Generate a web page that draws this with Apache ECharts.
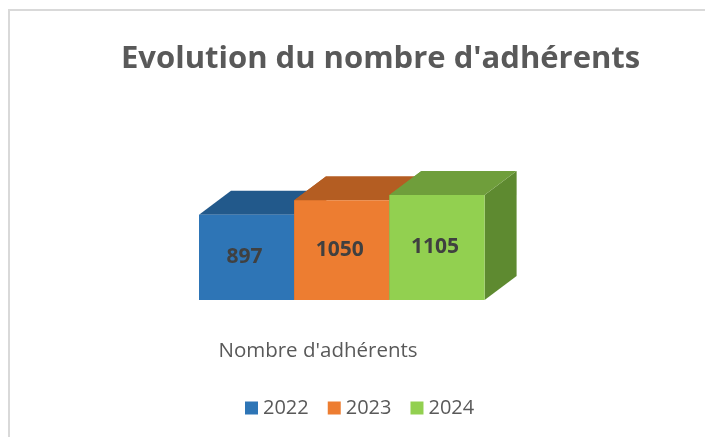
<!DOCTYPE html>
<html>
<head>
<meta charset="utf-8">
<script src="https://cdn.jsdelivr.net/npm/echarts@6/dist/echarts.min.js"></script>
<style>
  html, body { margin: 0; padding: 0; background: #fff; }
  #chart { width: 705px; height: 437px; }
</style>
</head>
<body>
<div id="chart"></div>
<script>
// données
const categories = ["Nombre d'adhérents"];
const years = ['2022', '2023', '2024'];
const values = [897, 1050, 1105];

// couleurs : face avant, dessus, côté
const fronts = ['#2E75B6', '#ED7D31', '#92D050'];
const tops = ['#22598B', '#B45D22', '#6F9E3B'];
const sides = ['#1F4E79', '#A0521D', '#5E8A30'];

const depthX = 32;
const depthY = 24;

let chart = echarts.init(document.getElementById('chart'));

function makeRender(idx) {
    return function (params, api) {
        let base = api.coord([api.value(0), 0]);
        let top = api.coord([api.value(0), api.value(1)]);
        let band = api.size([1, 0])[0];
        let w = band * 0.4;
        let x0 = base[0] - band / 2 + idx * w;
        let x1 = x0 + w;
        let yb = base[1];
        let yt = top[1];
        let children = [];
        if (idx > 0) {
            // face gauche cachée : masque le dessus de la barre précédente
            children.push({
                type: 'polygon',
                shape: { points: [[x0, yt], [x0 + depthX, yt - depthY], [x0 + depthX, yb - depthY], [x0, yb]] },
                style: { fill: tops[idx] }
            });
        }
        children.push(
            {
                type: 'polygon',
                shape: { points: [[x1, yt], [x1 + depthX, yt - depthY], [x1 + depthX, yb - depthY], [x1, yb]] },
                style: { fill: sides[idx] }
            },
            {
                type: 'polygon',
                shape: { points: [[x0, yt], [x1, yt], [x1 + depthX, yt - depthY], [x0 + depthX, yt - depthY]] },
                style: { fill: tops[idx] }
            },
            {
                type: 'rect',
                shape: { x: x0, y: yt, width: w, height: yb - yt },
                style: { fill: fronts[idx] }
            },
            {
                type: 'text',
                x: x0 + w / 2 - 2,
                y: (yt + yb) / 2,
                style: {
                    text: String(api.value(1)),
                    fill: '#404040',
                    font: 'bold 21px "Open Sans", sans-serif',
                    align: 'center',
                    verticalAlign: 'middle'
                }
            }
        );
        return { type: 'group', children: children };
    };
}

let series = years.map(function (y, i) {
    return {
        name: y,
        type: 'custom',
        renderItem: makeRender(i),
        itemStyle: { color: fronts[i] },
        clip: false,
        data: [[0, values[i]]]
    };
});

let option = {
    backgroundColor: '#fff',
    animation: false,
    title: {
        text: "Evolution du nombre d'adhérents",
        left: 116,
        top: 39,
        textStyle: {
            fontFamily: 'Open Sans',
            fontWeight: 'bold',
            fontSize: 31,
            color: '#595959'
        }
    },
    legend: {
        data: years,
        top: 393,
        left: 240,
        icon: 'rect',
        itemWidth: 13,
        itemHeight: 13,
        itemGap: 19,
        textStyle: { fontFamily: 'Open Sans', fontSize: 20, color: '#595959' }
    },
    grid: {
        left: 199,
        width: 238,
        top: 186,
        bottom: 137
    },
    xAxis: {
        type: 'category',
        data: categories,
        axisLine: { show: false },
        axisTick: { show: false },
        axisLabel: {
            margin: 41,
            fontFamily: 'Open Sans',
            fontSize: 20.5,
            color: '#595959'
        }
    },
    yAxis: {
        type: 'value',
        min: 0,
        max: 1200,
        show: false
    },
    graphic: [{
        type: 'rect',
        shape: { x: 9, y: 10, width: 800, height: 600 },
        style: { fill: 'none', stroke: '#d9d9d9', lineWidth: 2 },
        silent: true
    }],
    series: series
};

chart.setOption(option);
</script>
</body>
</html>
